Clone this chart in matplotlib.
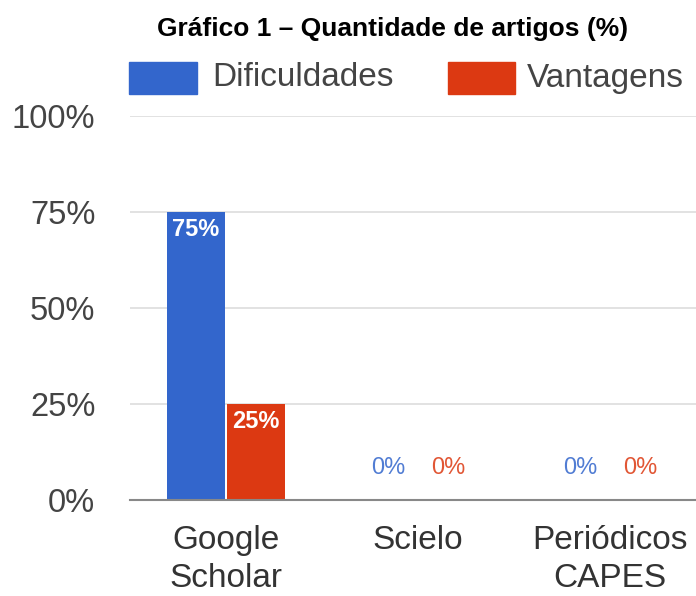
import matplotlib.pyplot as plt
from matplotlib.patches import Rectangle

# Data
bases = ['Google\nScholar', 'Scielo', 'Periódicos\nCAPES']
dificuldades = [75, 0, 0]
vantagens = [25, 0, 0]
yticks = [0, 25, 50, 75, 100]

blue = '#3366cc'
red = '#dc3912'
font = 'Liberation Sans'

fig = plt.figure(figsize=(6.96, 5.96), dpi=100)
ax = fig.add_axes([130 / 696, 96 / 596, 566 / 696, 384 / 596])

x = list(range(len(bases)))
off = 0.157
w = 0.302
bars_d = ax.bar([i - off for i in x], dificuldades, width=w, color=blue, zorder=3)
bars_v = ax.bar([i + off for i in x], vantagens, width=w, color=red, zorder=3)

for bars, vals, col in [(bars_d, dificuldades, blue), (bars_v, vantagens, red)]:
    for b, v in zip(bars, vals):
        cx = b.get_x() + b.get_width() / 2
        if v > 0:
            ax.annotate(f'{v}%', (cx, v), xytext=(0, -12.5), textcoords='offset points',
                        ha='center', va='center', color='white', fontsize=17,
                        fontweight='bold', fontfamily=font, zorder=4)
        else:
            ax.annotate(f'{v}%', (cx, 0), xytext=(0, 23), textcoords='offset points',
                        ha='center', va='center', color=col, fontsize=17,
                        fontfamily=font, alpha=0.85, zorder=4)

ax.set_xlim(-0.5, 2.448)
ax.set_ylim(0, 100)
ax.set_yticks(yticks)
ax.set_yticklabels([f'{t}%' for t in yticks], fontfamily=font, fontsize=23.5, color='#444444')
ax.set_xticks(x)
ax.set_xticklabels(bases, fontfamily=font, fontsize=24, color='#333333', linespacing=1.3)
ax.tick_params(length=0)
ax.tick_params(axis='y', pad=25)
ax.tick_params(axis='x', pad=18)
ax.grid(axis='y', color='#dddddd', linewidth=1.2, zorder=0)
for s in ['top', 'right', 'left']:
    ax.spines[s].set_visible(False)
ax.spines['bottom'].set_color('#888888')
ax.spines['bottom'].set_linewidth(1.5)
ax.spines['bottom'].set_zorder(5)

fig.text(393 / 696, 1 - 36 / 596, 'Gráfico 1 – Quantidade de artigos (%)', ha='center', va='baseline',
         fontsize=19, fontweight='bold', fontfamily=font)

# legend
fig.add_artist(Rectangle((129 / 696, 1 - 94 / 596), 68 / 696, 32 / 596, color=blue, transform=fig.transFigure))
fig.text(212 / 696, 1 - 78 / 596, 'Dificuldades', ha='left', va='center', fontsize=24,
         fontfamily=font, color='#444444')
fig.add_artist(Rectangle((448 / 696, 1 - 94 / 596), 67 / 696, 32 / 596, color=red, transform=fig.transFigure))
fig.text(527 / 696, 1 - 78 / 596, 'Vantagens', ha='left', va='center', fontsize=24,
         fontfamily=font, color='#444444')

fig.savefig('out.png', dpi=100)
